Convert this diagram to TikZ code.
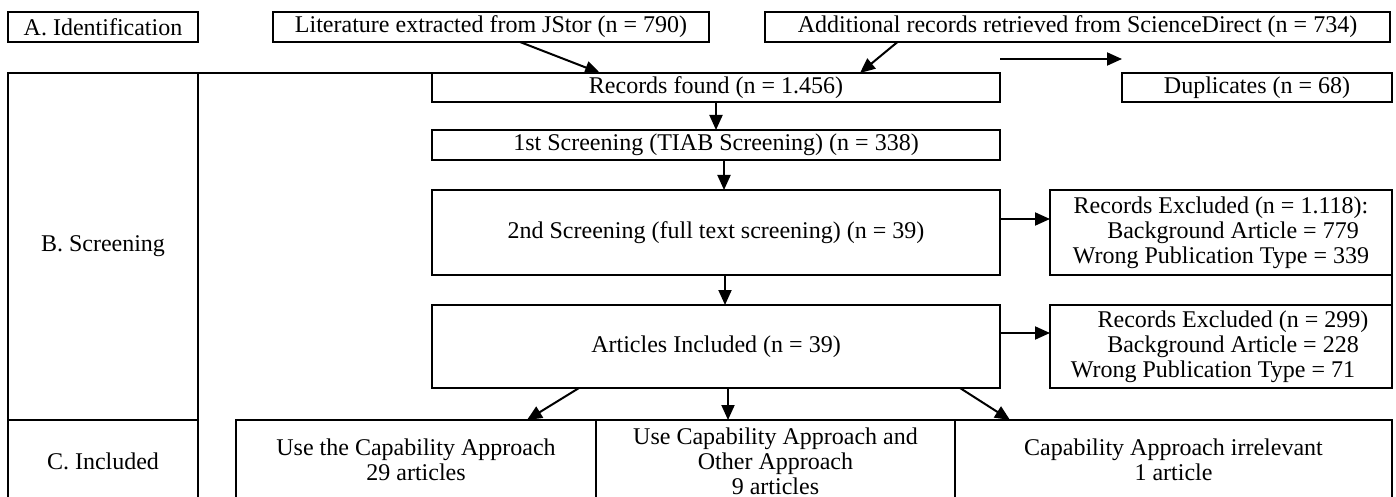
\documentclass[tikz,border=0pt]{standalone}
\usepackage{fontspec}
\setmainfont{Liberation Serif}
\usetikzlibrary{positioning,arrows.meta}

\begin{document}
\begin{tikzpicture}[x=0.5pt, y=-0.5pt, line width=1pt,
        >={Triangle[length=7.5pt, width=6.5pt]},
        box/.style={draw, inner sep=0pt, outer sep=0pt, align=center,
            font=\fontsize{12}{12.5}\selectfont}]
            \useasboundingbox (0,0) rectangle (1396,497);

            \node [box, minimum width=95pt, minimum height=15pt] (ida) at (103,27) {A. Identification};
            \node [box, minimum width=218pt, minimum height=15pt] (jstor) at (491,27) {Literature extracted from JStor (n = 790)};
            \node [box, minimum width=312.5pt, minimum height=15pt] (scidir) at (1077.5,27) {Additional records retrieved from ScienceDirect (n = 734)};

            \node [box, minimum width=95pt, minimum height=173.5pt] (colb) at (103,246.5) {B. Screening};
            \node [box, minimum width=95pt, minimum height=41pt, below=0pt of colb] (colc) {C. Included};

            \node [box, minimum width=284pt, minimum height=14.5pt] (found) at (716,87.5) {Records found (n = 1.456)};
            \node [box, minimum width=135pt, minimum height=14.5pt, right=61pt of found] (dupl) {Duplicates (n = 68)};
            \node [box, minimum width=284pt, minimum height=15pt, below=14pt of found] (scr1) {1st Screening (TIAB Screening) (n = 338)};
            \node [box, minimum width=284pt, minimum height=42.5pt, below=15pt of scr1] (scr2) {2nd Screening (full text screening) (n = 39)};
            \node [box, minimum width=284pt, minimum height=41.5pt, below=15pt of scr2] (incl) {Articles Included (n = 39)};
            \node [box, minimum width=171pt, minimum height=42.5pt, right=25pt of scr2] (excl1) {Records Excluded (n = 1.118):\\ \hspace*{12pt}Background Article = 779\\ Wrong Publication Type = 339};
            \node [box, minimum width=171pt, minimum height=41.5pt, right=25pt of incl] (excl2) {\hspace*{12pt}Records Excluded (n = 299)\\ \hspace*{12pt}Background Article = 228\\ Wrong Publication Type = 71\hspace*{8pt}};

            \node [box, minimum width=180pt, minimum height=40pt, anchor=north west] (use1) at (236,420) {Use the Capability Approach\\ 29 articles};
            \node [box, minimum width=179.5pt, minimum height=41pt, anchor=north west] (use2) at (use1.north east) {Use Capability Approach and\\ Other Approach\\ 9 articles};
            \node [box, minimum width=218.5pt, minimum height=40pt, anchor=north west] (use3) at (use2.north east) {Capability Approach irrelevant\\ 1 article};

            \draw (colb.north east) -- (found.north west);
            \draw (excl1.south east) -- (excl2.north east);

            \draw [->] ([xshift=14.5pt]jstor.south) -- ([xshift=-58pt]found.north);
            \draw [->] ([xshift=-90pt]scidir.south) -- ([xshift=72pt]found.north);
            \draw [->] ([yshift=7pt]found.north east) -- ([yshift=7pt]dupl.north west);

            \draw [->] (found) -- (scr1);
            \draw [->] ([xshift=4pt]scr1.south) -- ([xshift=4pt]scr2.north);
            \draw [->] ([xshift=4.5pt]scr2.south) -- ([xshift=4.5pt]incl.north);

            \draw [->] ([yshift=6.75pt]scr2.east) -- ([yshift=6.75pt]excl1.west);
            \draw [->] ([yshift=6.75pt]incl.east) -- ([yshift=6.75pt]excl2.west);

            \draw [->] ([xshift=-68.5pt]incl.south) -- ([xshift=55.5pt]use1.north);
            \draw [->] ([xshift=6pt]incl.south) -- ([xshift=6pt]incl.south |- use2.north);
            \draw [->] ([xshift=122pt]incl.south) -- ([xshift=-81.75pt]use3.north);
        \end{tikzpicture}
\end{document}
